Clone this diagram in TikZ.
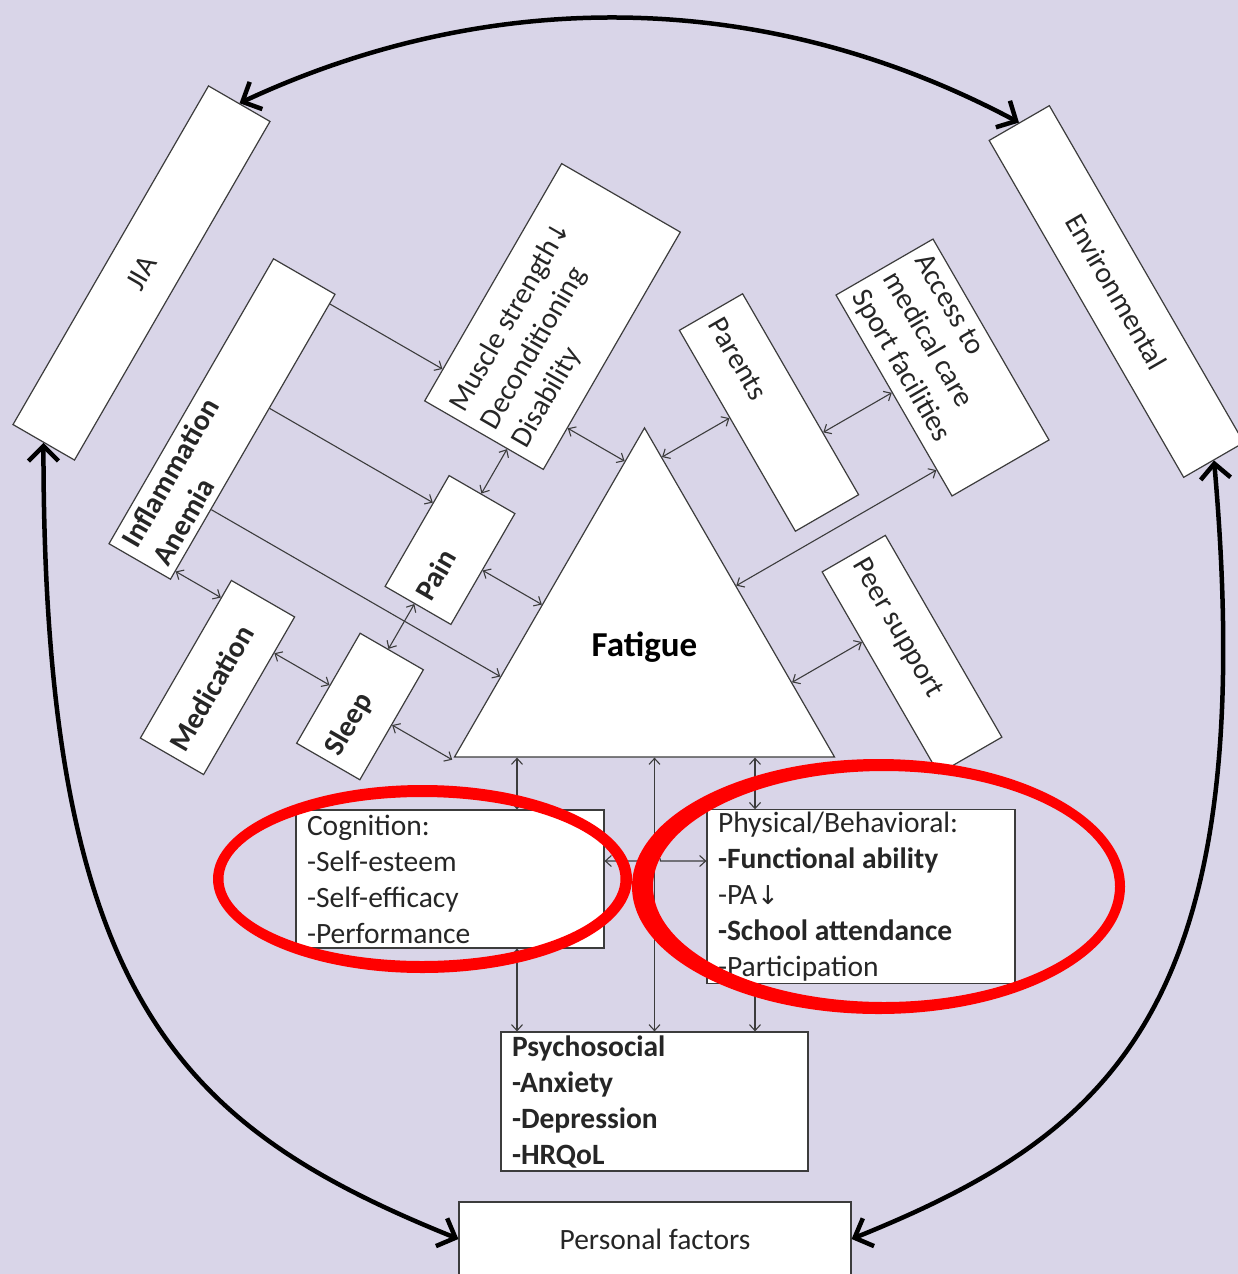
\documentclass[tikz,border=0pt]{standalone}
\usepackage{fontspec}
\setmainfont{Carlito}
\newfontfamily\arrowfont{DejaVu Sans}
\usepackage{tikz}
\usetikzlibrary{calc,shapes.geometric,arrows.meta}
\definecolor{lilac}{RGB}{217,213,232}
\definecolor{ink}{RGB}{60,60,60}
\newcommand{\boxfont}{\fontsize{29.5}{36}\selectfont}
\newcommand{\dnarrow}{{\arrowfont\fontsize{26}{36}\selectfont ↓}}
\tikzset{
   factor node/.style={draw=ink,fill=white,line width=1.2pt,text=black!85,font=\boxfont,inner ysep=2pt},
   tilted node/.style={factor node,inner xsep=9pt,align=flush left},
   list node/.style={factor node,inner xsep=11pt,align=flush left},
   bold node/.style={font=\boxfont\bfseries},
   ring/.style={fill=red,even odd rule},
   big link/.style={line width=4.5pt,{Straight Barb[length=15pt,width=30pt]}-{Straight Barb[length=15pt,width=30pt]}}
}

\begin{document}
\begin{tikzpicture}[x=1pt,y=1pt,
                    >={Straight Barb[length=6pt,width=11pt]},
                    link/.style={color=ink,line width=1.1pt}]
\useasboundingbox (0,0) rectangle (1238,-1274);
\fill[lilac] (0,0) rectangle (1238,-1274);
\clip (0,0) rectangle (1238,-1274);
% outer ring of boxes
\node[tilted node,rotate=60,minimum width=391,minimum height=71,align=center] (jia) at (141.5,-273) {JIA};
\node[tilted node,rotate=-60,minimum width=389,minimum height=69.5,align=center] (env) at (1116.5,-291.5) {Environmental};
\node[list node,minimum width=392,minimum height=74,align=center] (pf) at (655,-1239) {Personal factors};
% left factors
\node[tilted node,bold node,rotate=60,text width=311,minimum height=71] (infl) at (222,-419) {Inflammation\\Anemia};
\node[tilted node,rotate=60,text width=256,minimum height=137] (mus) at (552.5,-316.5) {Muscle strength\dnarrow\\Deconditioning\\Disability};
\node[tilted node,bold node,rotate=60,text width=110,minimum height=76] (pain) at (450,-550) {Pain};
\node[tilted node,bold node,rotate=60,text width=164,minimum height=73] (med) at (217.5,-677.5) {Medication};
\node[tilted node,bold node,rotate=60,text width=109,minimum height=73] (sleep) at (360,-706.5) {Sleep};
% right factors
\node[tilted node,rotate=-60,text width=214,minimum height=73] (par) at (769,-412.5) {Parents};
\node[tilted node,rotate=-60,text width=214,minimum height=112] (acc) at (942.5,-367.5) {Access to\\medical care\\Sport facilities};
\node[tilted node,rotate=-60,text width=215,minimum height=73] (peer) at (912,-654.5) {Peer support};
% centre
\node[regular polygon,regular polygon sides=3,draw=ink,fill=white,line width=1.2pt,minimum size=438.8,inner sep=0pt,
      font=\fontsize{35}{42}\selectfont\bfseries] (fat) at (644.5,-647.3) {Fatigue};
\node[list node,text width=286,minimum height=138] (cog) at (450,-879) {Cognition:\\-Self-esteem\\-Self-efficacy\\-Performance};
\node[list node,text width=286,minimum height=173] (phys) at (861,-896.5)
     {Physical/Behavioral:\\\textbf{-Functional ability}\\-PA\dnarrow\\\textbf{-School attendance}\\-Participation};
\node[list node,bold node,text width=285,minimum height=139] (psy) at (654.5,-1101.5) {Psychosocial\\-Anxiety\\-Depression\\-HRQoL};
%
\coordinate (i1) at ($(infl.south east)!.035!(infl.south west)$);
\coordinate (i2) at ($(infl.south east)!.40!(infl.south west)$);
\coordinate (i3) at ($(infl.south east)!.754!(infl.south west)$);
\coordinate (i4) at ($(infl.south east)!.97!(infl.south west)$);
\coordinate (m1) at ($(mus.north west)!.695!(mus.south west)$);
\coordinate (m2) at ($(mus.south east)!.824!(mus.south west)$);
\coordinate (p1) at ($(pain.south east)!.51!(pain.south west)$);
\coordinate (p2) at ($(pain.north west)!.45!(pain.south west)$);
\coordinate (d1) at ($(med.south east)!.23!(med.south west)$);
\coordinate (s1) at ($(sleep.south east)!.5!(sleep.south west)$);
\coordinate (r1) at ($(par.south west)!.436!(par.south east)$);
\coordinate (r2) at ($(par.north west)!.69!(par.north east)$);
\coordinate (a1) at ($(acc.south west)!.868!(acc.south east)$);
\coordinate (e1) at ($(peer.south west)!.347!(peer.south east)$);
%
\path[link]
  (i1) edge[->]  ($(mus.north west)!(i1)!(mus.north east)$)
  (i2) edge[->]  ($(pain.north west)!(i2)!(pain.north east)$)
  (i3) edge[->]  ($(fat.corner 2)!(i3)!(fat.corner 1)$)
  (i4) edge[<->] ($(med.north west)!(i4)!(med.north east)$)
  (m1) edge[<->] ($(pain.north east)!(m1)!(pain.south east)$)
  (m2) edge[<->] ($(fat.corner 2)!(m2)!(fat.corner 1)$)
  (p1) edge[<->] ($(fat.corner 2)!(p1)!(fat.corner 1)$)
  (p2) edge[<->] ($(sleep.north east)!(p2)!(sleep.south east)$)
  (d1) edge[<->] ($(sleep.north west)!(d1)!(sleep.north east)$)
  (s1) edge[<->] ($(fat.corner 2)!(s1)!(fat.corner 1)$)
  (r1) edge[<->] ($(fat.corner 1)!(r1)!(fat.corner 3)$)
  (r2) edge[<->] ($(acc.south west)!(r2)!(acc.south east)$)
  (a1) edge[<->] ($(fat.corner 1)!(a1)!(fat.corner 3)$)
  (e1) edge[<->] ($(fat.corner 1)!(e1)!(fat.corner 3)$)
  ;
%
\coordinate (cx) at ($(cog.north)+(67,0)$);
\coordinate (px) at ($(phys.north)+(-106,0)$);
\coordinate (ct) at ($(cog.east)+(0,18)$);
\path[link]
  (cx |- fat.corner 2) edge[<->] (cx)
  (cx |- cog.south) edge[<->] (cx |- psy.north)
  (psy.north |- fat.corner 2) edge[<->] (psy.north)
  (px |- fat.corner 2) edge[<->] (px)
  (px |- phys.south) edge[<->] (px |- psy.north)
  ;
\draw[link,<->] (ct) -- ($(ct -| psy.north)+(-6,0)$) arc[start angle=180,end angle=0,radius=6] -- (ct -| phys.west);
%
\draw[big link] (jia.east) .. controls +(25:276) and +(152:289) .. (env.west);
\draw[big link] (jia.west) .. controls +(-90:557) and +(158:300) .. (pf.west);
\draw[big link] (env.east) .. controls +(-85:550) and +(22:280) .. (pf.east);
%
\fill[ring] (422.5,-879) ellipse[x radius=209.5,y radius=94] (422,-879) ellipse[x radius=198.5,y radius=82];
\fill[ring] (878.5,-886.5) ellipse[x radius=246.5,y radius=127.5] (884,-886.5) ellipse[x radius=231,y radius=115.5];
\end{tikzpicture}
\end{document}
